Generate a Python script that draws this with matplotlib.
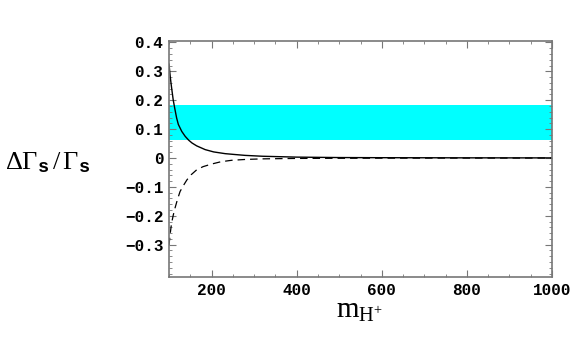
import matplotlib
matplotlib.use("Agg")
import matplotlib.pyplot as plt
from matplotlib.ticker import MultipleLocator, FixedLocator, FuncFormatter

plt.rcParams["mathtext.fontset"] = "custom"
plt.rcParams["mathtext.rm"] = "Liberation Serif"
plt.rcParams["mathtext.it"] = "Liberation Serif:italic"
plt.rcParams["mathtext.bf"] = "Liberation Serif:bold"
plt.rcParams["mathtext.tt"] = "Liberation Mono:bold"

# values
m_solid = [100, 103, 106, 110, 114, 118, 122, 130, 138, 146, 154, 165, 185, 205, 232, 255, 279, 320, 400, 500, 600, 800, 1000]
r_solid = [0.325, 0.28, 0.244, 0.2, 0.168, 0.138, 0.116, 0.092, 0.075, 0.062, 0.052, 0.042, 0.029, 0.021, 0.015, 0.012, 0.009, 0.006, 0.003, 0.0015, 0.001, 0.0005, 0.0003]
m_dash = [100, 103, 106, 110, 114, 120, 126, 134, 142, 152, 165, 180, 200, 222, 247, 280, 320, 400, 500, 600, 800, 1000]
r_dash = [-0.302, -0.26, -0.226, -0.198, -0.174, -0.143, -0.116, -0.095, -0.076, -0.058, -0.041, -0.030, -0.021, -0.013, -0.008, -0.005, -0.003, -0.0015, -0.001, -0.0006, -0.0003, -0.0002]
band_lo, band_hi = 0.061, 0.185
y_ticks = [-0.3, -0.2, -0.1, 0.0, 0.1, 0.2, 0.3, 0.4]

fig = plt.figure(figsize=(5.76, 3.56), dpi=100)
ax = fig.add_axes([169 / 576, 1 - 277 / 356, (552 - 169) / 576, (277 - 41) / 356])

ax.axhspan(band_lo, band_hi, color="#00ffff", lw=0)
ax.plot(m_solid, r_solid, color="black", lw=1.0)
ax.plot(m_dash, r_dash, color="black", lw=0.9, ls=(0, (6, 4)))

ax.set_xlim(100, 1000)
ax.set_ylim(-0.412, 0.405)

ax.xaxis.set_major_locator(MultipleLocator(200))
ax.xaxis.set_minor_locator(MultipleLocator(50))
ax.yaxis.set_major_locator(FixedLocator(y_ticks))
ax.yaxis.set_minor_locator(MultipleLocator(0.02))
ax.yaxis.set_major_formatter(FuncFormatter(lambda v, p: "0" if abs(v) < 1e-9 else f"{v:.1f}".replace("-", "\u2212")))

for lab in ax.get_xticklabels() + ax.get_yticklabels():
    lab.set_fontfamily("Liberation Mono")
    lab.set_fontweight("bold")
    lab.set_fontsize(11.5)

ax.tick_params(which="both", direction="in", top=True, right=True, color="#777777")
ax.tick_params(which="major", length=5, width=0.8, pad=4)
ax.tick_params(which="minor", length=2.5, width=0.6)
for s in ax.spines.values():
    s.set_color("#777777")
    s.set_linewidth(1.2)

fig.text(5 / 576, 1 - 162 / 356, r"$\Delta\Gamma_{\mathtt{s}}\,/\,\Gamma_{\mathtt{s}}$", fontsize=19, va="center", ha="left")
fig.text(336 / 576, 1 - 318 / 356, r"$\mathrm{m}_{\mathrm{H}^{+}}$", fontsize=21, va="baseline", ha="left")

fig.savefig("out.png", dpi=100)
